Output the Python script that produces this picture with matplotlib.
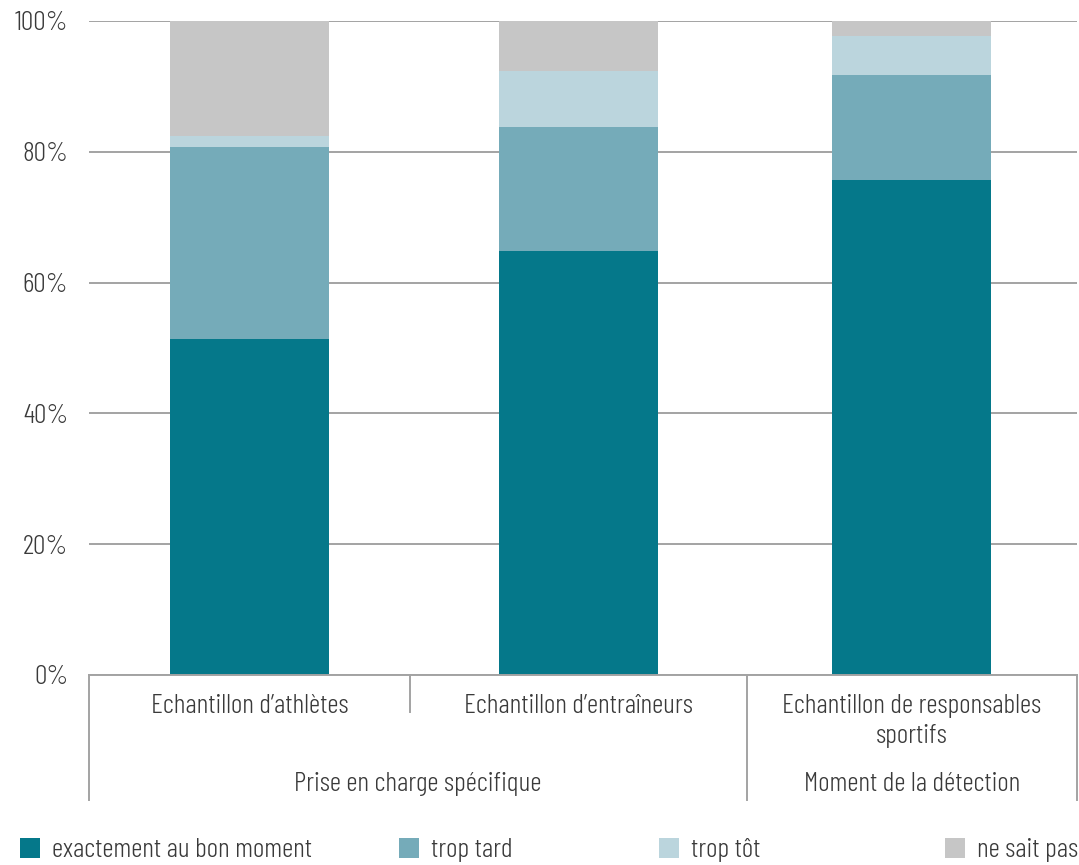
import matplotlib
matplotlib.use("Agg")
import matplotlib.pyplot as plt
import matplotlib.transforms as mtransforms
from matplotlib.patches import Patch

# Data (in %)
categories = ["Echantillon d’athlètes", "Echantillon d’entraîneurs",
              "Echantillon de responsables\nsportifs"]
groups = ["Prise en charge spécifique", "Moment de la détection"]
series = ["exactement au bon moment", "trop tard", "trop tôt", "ne sait pas"]
bon_moment = [51.4, 64.8, 75.7]
trop_tard = [29.3, 19.0, 16.1]
trop_tot = [1.7, 8.6, 5.9]
ne_sait_pas = [17.6, 7.6, 2.3]
yticks = [0, 20, 40, 60, 80, 100]

colors = ["#05788a", "#75abb9", "#bbd5dd", "#c6c6c6"]

plt.rcParams["font.family"] = ["Barlow Condensed", "DejaVu Sans"]
plt.rcParams["font.weight"] = 300
FS = 20
txt_color = "#3a3a3a"
line_color = "#a3a3a3"

# cell borders of the category table, in pixels from the left of the axes
edges = [0, 321, 658, 988]
centers = [(a + b) / 2 for a, b in zip(edges[:-1], edges[1:])]

fig = plt.figure(figsize=(10.79, 8.65), dpi=100)
ax = fig.add_axes([89 / 1079, 190 / 865, 988 / 1079, 654 / 865])

bottom = [0, 0, 0]
for vals, col, name in zip([bon_moment, trop_tard, trop_tot, ne_sait_pas], colors, series):
    ax.bar(centers, vals, width=159, bottom=bottom, color=col, label=name, zorder=2)
    bottom = [b + v for b, v in zip(bottom, vals)]

ax.set_xlim(edges[0], edges[-1])
ax.set_ylim(0, 100)
ax.set_yticks(yticks)
ax.set_yticklabels([f"{t}%" for t in yticks], fontsize=FS, color=txt_color)
ax.tick_params(axis="y", length=0, pad=15)
ax.set_xticks([])
ax.grid(axis="y", color=line_color, linewidth=1.4, zorder=0)
for s in ["top", "right", "left"]:
    ax.spines[s].set_visible(False)
ax.spines["bottom"].set_color(line_color)
ax.spines["bottom"].set_linewidth(1.4)

# two-level category axis
tr = mtransforms.blended_transform_factory(ax.transData, ax.transAxes)
for xv, ybot in zip(edges, [-0.191, -0.0566, -0.191, -0.191]):
    ax.plot([xv, xv], [0, ybot], transform=tr, color=line_color, lw=1.4, clip_on=False)
for xv, lab in zip(centers, categories):
    ax.text(xv, -0.029, lab, transform=tr, ha="center", va="top", fontsize=FS,
            color=txt_color, linespacing=1.3)
ax.text(edges[2] / 2, -0.148, groups[0], transform=tr, ha="center", va="top", fontsize=FS, color=txt_color)
ax.text(centers[2], -0.148, groups[1], transform=tr, ha="center", va="top", fontsize=FS, color=txt_color)

# legend, one entry at a time
leg_x = [20 / 1079, 399 / 1079, 659 / 1079, 945 / 1079]
for name, col, lx in zip(series, colors, leg_x):
    lg = fig.legend(handles=[Patch(facecolor=col, label=name)], loc="center left",
                    bbox_to_anchor=(lx, 15 / 865), frameon=False, fontsize=FS,
                    handlelength=0.72, handleheight=0.72, handletextpad=0.42,
                    borderpad=0, borderaxespad=0)
    for t in lg.get_texts():
        t.set_color(txt_color)

fig.savefig("out.png", dpi=100)
